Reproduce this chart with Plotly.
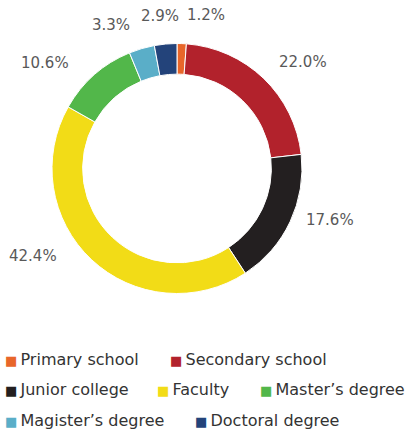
import math

import plotly.graph_objects as go

# data
labels = [
    "Primary school",
    "Secondary school",
    "Junior college",
    "Faculty",
    "Master’s degree",
    "Magister’s degree",
    "Doctoral degree",
]
shares = [1.2, 22.0, 17.6, 42.4, 10.6, 3.3, 2.9]
colors = ["#e8662a", "#b2222c", "#231f20", "#f2dc17", "#52b74a", "#5aaec8", "#23437a"]

W, H = 407, 429
FONT = "DejaVu Sans"
LABEL_GREY = "#595959"
LEGEND_INK = "#333333"

# ring placement in pixels (centre + outer radius)
CX, CY, R = 177, 168.5, 125

# percentage label tweaks: angle shift (deg) from slice middle, distance from centre (px)
label_shift = [8.5, 6, -6.5, 15.5, -10, -8.5, -1]
label_dist = [156, 165, 162, 169, 169, 158, 153]

# legend layout (Excel style, wraps by width): row centres and item left edges, px
legend_rows_y = [359, 389, 420]
legend_row = [0, 0, 1, 1, 1, 2, 2]
legend_x = [4, 169, 4, 156, 259, 4, 194]

fig = go.Figure(
    go.Pie(
        labels=labels,
        values=shares,
        hole=0.755,
        sort=False,
        direction="clockwise",
        rotation=0,
        marker=dict(colors=colors, line=dict(color="white", width=1)),
        textinfo="none",
        hoverinfo="label+percent",
        showlegend=False,
        domain=dict(x=[(CX - R) / W, (CX + R) / W], y=[(H - CY - R) / H, (H - CY + R) / H]),
    )
)

# percentage labels, placed around the ring from the cumulative shares
total = sum(shares)
cum = 0.0
for v, shift, dist in zip(shares, label_shift, label_dist):
    mid = (cum + v / 2) / total * 360 + shift
    cum += v
    px = CX + dist * math.sin(math.radians(mid))
    py = CY - dist * math.cos(math.radians(mid))
    fig.add_annotation(
        x=px / W, y=(H - py) / H, xref="paper", yref="paper",
        text=f"{v:.1f}%", showarrow=False,
        xanchor="center", yanchor="middle",
        font=dict(family=FONT, size=15, color=LABEL_GREY),
    )

# legend drawn as annotations so rows wrap with natural item widths
for lbl, col, row, lx in zip(labels, colors, legend_row, legend_x):
    fig.add_annotation(
        x=lx / W, y=(H - legend_rows_y[row]) / H, xref="paper", yref="paper",
        text=f"<span style='color:{col};font-size:13px'>■</span>\u2009{lbl}",
        showarrow=False, xanchor="left", yanchor="middle",
        borderpad=0,
        font=dict(family=FONT, size=16, color=LEGEND_INK),
    )

fig.update_layout(
    width=W,
    height=H,
    margin=dict(l=0, r=0, t=0, b=0),
    paper_bgcolor="white",
    plot_bgcolor="white",
    font=dict(family=FONT, size=15, color=LABEL_GREY),
    showlegend=False,
)

fig.write_html(
    "out.html",
    config={"displayModeBar": False},
    post_script="document.body.style.margin='0';",
)
